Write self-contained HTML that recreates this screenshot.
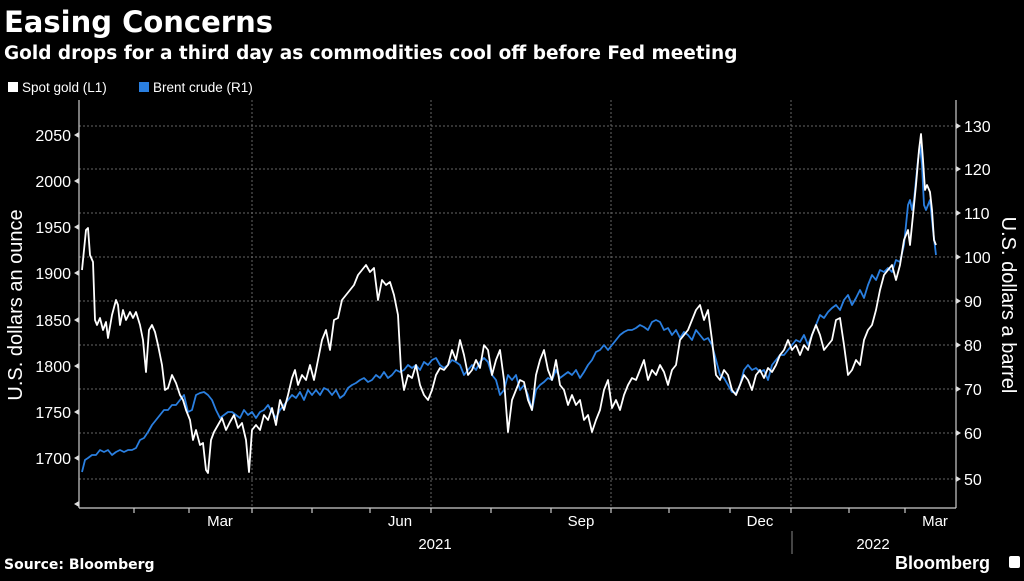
<!DOCTYPE html>
<html><head><meta charset="utf-8"><style>
body{margin:0;background:#000;width:1024px;height:576px;overflow:hidden;font-family:"Liberation Sans","DejaVu Sans",sans-serif}
</style></head><body>
<svg width="1024" height="576" viewBox="0 0 1024 576" xmlns="http://www.w3.org/2000/svg">
<rect width="1024" height="576" fill="#000"/>
<text x="4" y="32" fill="#fff" font-size="29" font-weight="bold" font-family="DejaVu Sans, sans-serif">Easing Concerns</text>
<text x="4" y="59" fill="#fff" font-size="18.5" font-weight="bold" font-family="DejaVu Sans, sans-serif">Gold drops for a third day as commodities cool off before Fed meeting</text>
<rect x="8" y="82" width="10" height="10" fill="#fff"/>
<text x="22" y="92" fill="#fff" font-size="13.5">Spot gold (L1)</text>
<rect x="139" y="82" width="10" height="10" fill="#2a7fe0"/>
<text x="153" y="92" fill="#fff" font-size="13.5">Brent crude (R1)</text>
<g stroke="#666" stroke-dasharray="2,2" stroke-width="1">
<line x1="79" x2="956" y1="126" y2="126"/><line x1="79" x2="956" y1="169" y2="169"/><line x1="79" x2="956" y1="213" y2="213"/><line x1="79" x2="956" y1="257" y2="257"/><line x1="79" x2="956" y1="301" y2="301"/><line x1="79" x2="956" y1="345" y2="345"/><line x1="79" x2="956" y1="389" y2="389"/><line x1="79" x2="956" y1="433" y2="433"/><line x1="79" x2="956" y1="479" y2="479"/>
<line x1="252" x2="252" y1="100" y2="508"/><line x1="431" x2="431" y1="100" y2="508"/><line x1="611" x2="611" y1="100" y2="508"/><line x1="791" x2="791" y1="100" y2="508"/>
</g>
<g stroke="#ccc" stroke-width="1.2" fill="none">
<line x1="79" y1="100" x2="79" y2="508"/><line x1="956" y1="100" x2="956" y2="508"/><line x1="79" y1="508" x2="956" y2="508"/>
<path d="M134 508v5M189 508v5M252 508v5M312 508v5M370 508v5M431 508v5M491 508v5M551 508v5M611 508v5M669 508v5M730 508v5M791 508v5M849 508v5M905 508v5"/>
</g>
<g fill="#ddd"><path d="M79 501l-5 3 5 3zM79 455l-5 3 5 3zM79 409l-5 3 5 3zM79 363l-5 3 5 3zM79 317l-5 3 5 3zM79 270l-5 3 5 3zM79 224l-5 3 5 3zM79 178l-5 3 5 3zM79 132l-5 3 5 3z"/>
<path d="M956 476l5 3-5 3zM956 430l5 3-5 3zM956 386l5 3-5 3zM956 342l5 3-5 3zM956 298l5 3-5 3zM956 254l5 3-5 3zM956 210l5 3-5 3zM956 166l5 3-5 3zM956 123l5 3-5 3z"/></g>
<g fill="#fff" font-size="16" text-anchor="end">
<text x="71" y="464">1700</text><text x="71" y="418">1750</text><text x="71" y="372">1800</text><text x="71" y="326">1850</text><text x="71" y="279">1900</text><text x="71" y="233">1950</text><text x="71" y="187">2000</text><text x="71" y="141">2050</text>
</g>
<g fill="#fff" font-size="16">
<text x="964" y="485">50</text><text x="964" y="439">60</text><text x="964" y="395">70</text><text x="964" y="351">80</text><text x="964" y="307">90</text><text x="964" y="263">100</text><text x="964" y="219">110</text><text x="964" y="175">120</text><text x="964" y="132">130</text>
</g>
<text transform="translate(22,305) rotate(-90)" fill="#fff" font-size="20" text-anchor="middle">U.S. dollars an ounce</text>
<text transform="translate(1002,305) rotate(90)" fill="#fff" font-size="20" text-anchor="middle">U.S. dollars a barrel</text>
<g fill="#fff" font-size="15" text-anchor="middle">
<text x="220" y="526">Mar</text><text x="400" y="526">Jun</text><text x="581" y="526">Sep</text><text x="760" y="526">Dec</text><text x="935" y="526">Mar</text>
<text x="435" y="549">2021</text><text x="873" y="549">2022</text>
</g>
<line x1="792" y1="531" x2="792" y2="554" stroke="#888"/>
<text x="4" y="569" fill="#fff" font-size="14" font-weight="bold" font-family="DejaVu Sans, sans-serif">Source: Bloomberg</text>
<text x="895" y="569" fill="#fff" font-size="18" font-weight="bold">Bloomberg</text>
<rect x="1009" y="556" width="11" height="12" rx="2" fill="#fff"/>
<polyline fill="none" stroke="#2a7fe0" stroke-width="1.8" stroke-linejoin="round" points="82,472 85,460 88,458 92,455 96,455 100,450 104,452 108,450 112,455 116,452 120,450 124,452 128,450 132,450 136,448 140,440 144,438 148,432 152,425 156,420 160,415 164,410 168,410 172,405 176,405 180,400 184,395 188,412 192,410 196,395 200,393 204,392 208,395 212,400 216,410 220,418 224,415 228,412 232,412 236,415 240,418 244,410 248,415 252,412 256,418 260,412 264,410 268,405 272,412 276,418 280,410 284,405 288,400 292,395 296,398 300,392 304,400 308,390 312,395 316,390 320,395 324,388 328,390 332,395 336,390 340,398 344,395 348,388 352,385 356,383 360,380 364,378 368,382 372,380 376,375 380,378 384,372 388,378 392,375 396,370 400,372 404,370 408,365 412,368 416,365 420,370 424,362 428,365 432,360 436,358 440,365 444,368 448,365 452,360 456,362 460,365 464,375 468,370 472,365 476,370 480,362 484,358 488,362 492,375 496,380 500,395 504,390 508,375 512,380 516,375 520,390 524,385 528,395 532,410 536,390 540,385 544,382 548,378 552,380 556,370 560,378 564,375 568,372 572,375 576,370 580,378 584,372 588,365 592,360 596,352 600,350 604,345 608,350 612,345 616,340 620,335 624,332 628,330 632,330 636,328 640,325 644,327 648,330 652,322 656,320 660,322 664,330 668,328 672,335 676,330 680,338 684,332 688,335 692,340 696,330 700,335 704,340 708,338 712,345 716,360 720,375 724,378 728,385 732,392 736,393 740,385 744,370 748,365 752,370 756,368 760,372 764,370 768,380 772,365 776,360 780,355 784,355 788,350 792,345 796,340 800,342 804,335 808,345 812,335 816,325 820,315 824,318 828,312 832,308 836,305 840,310 844,300 848,295 852,305 856,298 860,290 864,298 868,285 872,275 876,280 880,270 884,272 888,268 892,272 896,260 900,262 904,245 908,205 910,200 912,210 914,200 916,180 918,160 920,145 922,165 924,205 926,210 928,205 930,200 933,230 936,255"/>
<polyline fill="none" stroke="#fff" stroke-width="1.8" stroke-linejoin="round" points="82,270 86,230 88,228 90,255 93,262 95,320 97,325 100,318 103,330 106,322 108,338 112,315 116,300 118,305 120,325 123,310 126,320 130,312 133,318 136,312 140,325 143,340 146,372 149,330 152,325 155,332 158,345 162,365 165,390 168,388 172,375 176,383 180,395 183,400 186,410 190,420 193,440 196,430 200,445 203,443 206,470 208,473 211,440 214,432 218,425 222,418 226,430 230,422 234,415 238,428 242,423 246,440 249,472 252,430 256,425 260,430 264,415 268,420 272,408 276,425 280,400 284,410 288,395 292,378 295,370 298,385 302,375 306,380 310,365 314,380 318,360 322,340 326,330 330,350 334,320 338,318 342,300 346,295 350,290 354,285 358,275 362,270 366,265 370,272 374,268 378,300 382,280 386,285 390,282 394,295 398,315 401,370 404,390 408,375 412,378 416,365 420,385 424,395 428,400 432,390 436,375 440,368 444,370 448,365 452,350 456,360 460,340 464,355 468,375 472,370 476,360 480,368 484,345 488,350 492,375 496,360 500,350 504,380 508,432 512,400 516,390 520,380 524,382 528,400 532,410 536,375 540,360 544,350 548,370 552,380 556,360 560,385 564,390 568,405 572,395 576,405 580,400 584,420 588,415 592,432 596,420 600,410 604,390 608,380 612,408 616,400 620,410 624,395 628,385 632,378 636,380 640,370 644,360 648,380 652,370 656,375 660,365 664,372 668,385 672,370 676,365 680,340 684,335 688,330 692,320 696,310 700,305 704,320 708,310 712,340 716,375 720,380 724,370 728,375 732,390 736,395 740,385 744,375 748,380 752,390 756,375 760,370 764,378 768,368 772,372 776,365 780,355 784,350 788,340 792,350 796,345 800,355 804,345 808,350 812,335 816,325 820,335 824,350 828,345 832,340 836,320 840,318 844,345 848,375 852,370 856,360 860,365 864,340 868,330 872,325 876,310 880,290 884,275 888,270 892,265 896,280 900,265 904,240 908,230 910,245 912,225 916,185 919,150 921,134 923,160 925,190 927,185 930,192 932,210 934,240 936,245"/>
</svg>
</body></html>
